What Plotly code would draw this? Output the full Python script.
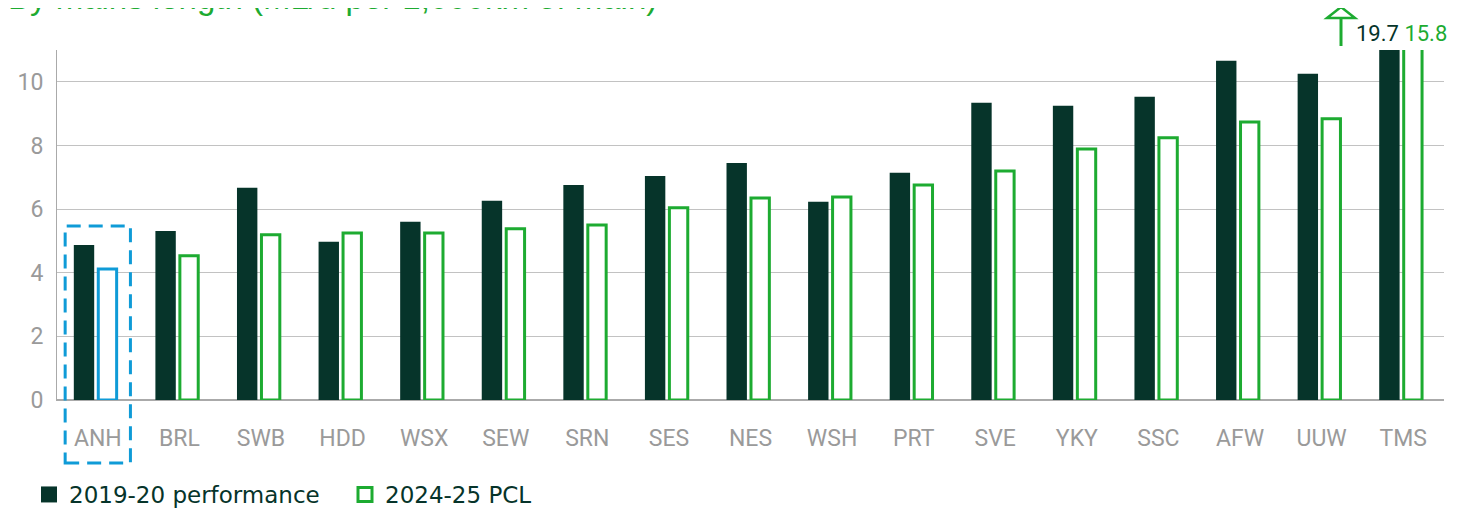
import plotly.graph_objects as go

categories = ["ANH", "BRL", "SWB", "HDD", "WSX", "SEW", "SRN", "SES", "NES",
              "WSH", "PRT", "SVE", "YKY", "SSC", "AFW", "UUW", "TMS"]
perf_2019_20 = [4.87, 5.31, 6.67, 4.97, 5.60, 6.26, 6.76, 7.04, 7.45,
                6.23, 7.14, 9.34, 9.25, 9.53, 10.66, 10.25, 19.7]
pcl_2024_25 = [4.12, 4.53, 5.19, 5.25, 5.25, 5.38, 5.50, 6.04, 6.35,
               6.38, 6.76, 7.20, 7.89, 8.24, 8.74, 8.84, 15.8]
series_names = ["2019-20 performance", "2024-25 PCL"]
y_ticks = [0, 2, 4, 6, 8, 10]

DARK = "#06342a"
GREEN = "#1dab31"
BLUE = "#0f9bd7"
GREY = "#9a9a9a"

# page body has an 8px margin; work in page pixels and convert
OFF = 8
W, H = 1469 - OFF, 508 - OFF
PLOT_L, PLOT_R, PLOT_T, PLOT_B = 57, 1444, 50, 400  # page pixels
ML = PLOT_L - OFF
MT = PLOT_T - OFF
PW = PLOT_R - PLOT_L
PH = PLOT_B - PLOT_T
MR = W - ML - PW
MB = H - MT - PH


def px(xp):
    return (xp - PLOT_L) / PW


def py(yp):
    return (PLOT_B - yp) / PH


line_colors = [BLUE if c == "ANH" else GREEN for c in categories]

fig = go.Figure()
fig.add_trace(go.Bar(x=categories, y=perf_2019_20, width=0.25, offset=-0.294,
                     marker=dict(color=DARK, line=dict(width=0)),
                     showlegend=False, hoverinfo="x+y"))
fig.add_trace(go.Bar(x=categories, y=pcl_2024_25, width=0.225, offset=0.006,
                     marker=dict(color="white", line=dict(color=line_colors, width=3)),
                     showlegend=False, hoverinfo="x+y"))
# legend entries
fig.add_trace(go.Scatter(x=[None], y=[None], mode="markers", name=series_names[0],
                         marker=dict(symbol="square", size=17, color=DARK,
                                     line=dict(width=0))))
fig.add_trace(go.Scatter(x=[None], y=[None], mode="markers", name=series_names[1],
                         marker=dict(symbol="square", size=14, color="white",
                                     line=dict(width=3, color=GREEN))))

shapes = [
    # ANH highlight box
    dict(type="rect", xref="x", yref="paper", x0=-0.40, x1=0.40,
         y0=py(463), y1=py(226), line=dict(color=BLUE, width=3, dash="14px,8px"),
         fillcolor="rgba(0,0,0,0)", layer="above"),
    # off-scale arrow stem
    dict(type="line", xref="paper", yref="paper", x0=px(1341), x1=px(1341),
         y0=py(46), y1=py(18), line=dict(color=GREEN, width=3)),
    # arrow head (open triangle)
    dict(type="path", xref="paper", yref="paper",
         path=f"M {px(1327)} {py(18)} L {px(1341)} {py(7)} L {px(1355)} {py(18)} Z",
         line=dict(color=GREEN, width=2.5), fillcolor="rgba(0,0,0,0)"),
]

annotations = [
    dict(xref="paper", yref="paper", x=px(1354), y=py(33), xanchor="left", yanchor="middle",
         text=f"<span style='color:{DARK}'>{perf_2019_20[-1]}</span> "
              f"<span style='color:{GREEN}'>{pcl_2024_25[-1]}</span>",
         showarrow=False, font=dict(family="Roboto", size=22)),
    dict(xref="paper", yref="paper", x=px(6), y=py(18), xanchor="left", yanchor="bottom",
         text="By mains length (ML/d per 1,000km of main)", showarrow=False,
         font=dict(family="Liberation Sans, Arial", size=33, color=GREEN)),
]

fig.update_layout(
    width=W, height=H,
    margin=dict(l=ML, r=MR, t=MT, b=MB, autoexpand=False),
    paper_bgcolor="white", plot_bgcolor="white",
    barmode="overlay",
    font=dict(family="Roboto", color=GREY),
    xaxis=dict(type="category", showgrid=False, showline=True, linecolor="#aaaaaa",
               linewidth=1, ticks="", tickfont=dict(size=23, color=GREY),
               ticklabelstandoff=17, range=[-0.5, len(categories) - 0.5],
               automargin=False),
    yaxis=dict(range=[0, 11], tickvals=y_ticks, showgrid=True, gridcolor="#c2c2c2",
               gridwidth=1, showline=True, linecolor="#aaaaaa", linewidth=1,
               zeroline=True, zerolinecolor="#aaaaaa", ticks="",
               tickfont=dict(size=23, color=GREY), ticklabelstandoff=8,
               automargin=False),
    legend=dict(orientation="h", x=px(29), y=py(473), xanchor="left", yanchor="top",
                font=dict(family="DejaVu Sans", size=23, color=DARK), itemwidth=30,
                entrywidth=271, entrywidthmode="pixels",
                bgcolor="rgba(0,0,0,0)"),
    shapes=shapes, annotations=annotations,
    showlegend=True,
)

fig.write_html("out.html")
